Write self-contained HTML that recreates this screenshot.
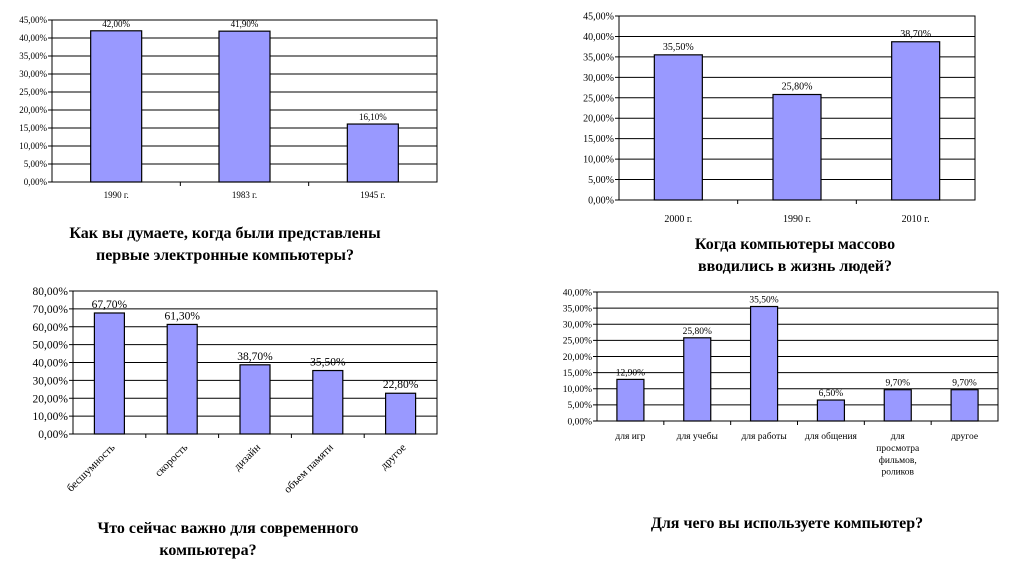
<!DOCTYPE html>
<html><head><meta charset="utf-8"><style>
body{margin:0;background:#fff}
svg{display:block;font-family:"Liberation Serif","Noto Serif CJK SC",serif}
</style></head><body>
<svg id="s" width="1024" height="574" xmlns="http://www.w3.org/2000/svg">
<g font-weight="bold" font-size="16" text-anchor="middle">
<text x="225" y="238">Как вы думаете, когда были представлены</text>
<text x="225" y="260">первые электронные компьютеры?</text></g>
<g font-weight="bold" font-size="16" text-anchor="middle">
<text x="795" y="249">Когда компьютеры массово</text>
<text x="795" y="271">вводились в жизнь людей?</text></g>
<g font-weight="bold" font-size="16" text-anchor="middle">
<text x="228" y="533">Что сейчас важно для современного</text>
<text x="208" y="555">компьютера?</text></g>
<g font-weight="bold" font-size="16" text-anchor="middle">
<text x="787" y="528">Для чего вы используете компьютер?</text></g>
</svg>
<script>
const c1Cats=["1990 г.","1983 г.","1945 г."];
const c1Vals=[42.0,41.9,16.1];
const c1Ticks=[0,5,10,15,20,25,30,35,40,45];
const c2Cats=["2000 г.","1990 г.","2010 г."];
const c2Vals=[35.5,25.8,38.7];
const c2Ticks=[0,5,10,15,20,25,30,35,40,45];
const c3Cats=["бесшумность","скорость","дизайн","объем памяти","другое"];
const c3Vals=[67.7,61.3,38.7,35.5,22.8];
const c3Ticks=[0,10,20,30,40,50,60,70,80];
const c4Cats=[["для игр"],["для учебы"],["для работы"],["для общения"],["для","просмотра","фильмов,","роликов"],["другое"]];
const c4Vals=[12.9,25.8,35.5,6.5,9.7,9.7];
const c4Ticks=[0,5,10,15,20,25,30,35,40];
const NS="http://www.w3.org/2000/svg";
const svg=document.getElementById('s');
function mk(t,a,p){const e=document.createElementNS(NS,t);for(const k in a)e.setAttribute(k,a[k]);(p||svg).appendChild(e);return e;}
function fmt(v){return v.toFixed(2).replace('.',',')+'%';}
function chart(name,o,cats,vals,ticks){
  const g=mk('g',{});
  
  
  const max=ticks[ticks.length-1];
  const y=v=>o.y0-(v/max)*(o.y0-o.y1);
  const cw=(o.x1-o.x0)/cats.length;
  const x=i=>o.x0+cw*(i+0.5);
  mk('rect',{x:o.x0,y:o.y1,width:o.x1-o.x0,height:o.y0-o.y1,fill:'#fff',stroke:'#000','stroke-width':1},g);
  ticks.forEach(t=>{
    const l=mk('line',{x1:o.x0-4,x2:o.x1,y1:y(t),y2:y(t),stroke:'#000','stroke-width':1},g);
    
    
    const tx=mk('text',{x:o.x0-5,y:y(t)+o.fs*0.35,'text-anchor':'end','font-size':o.fs},g);
    tx.textContent=fmt(t);
    
    
  });
  for(let i=1;i<cats.length;i++)mk('line',{x1:o.x0+cw*i,x2:o.x0+cw*i,y1:o.y0,y2:o.y0+4,stroke:'#000'},g);
  cats.forEach((c,i)=>{
    const b=mk('rect',{x:x(i)-o.bw/2,y:y(vals[i]),width:o.bw,height:o.y0-y(vals[i]),fill:'#9999ff',stroke:'#000','stroke-width':1.2},g);
    
    
    const vl=mk('text',{x:x(i),y:y(vals[i])-o.vo,'text-anchor':'middle','font-size':o.fs},g);
    vl.textContent=fmt(vals[i]);
    
    
    let cl;
    if(o.rot){
      const ax=x(i)+6, ay=o.y0+14;
      cl=mk('text',{x:ax,y:ay,'text-anchor':'end','font-size':o.cfs,transform:`rotate(-45 ${ax} ${ay})`},g);
      cl.textContent=c;
    }else{
      const lines=Array.isArray(c)?c:[c];
      cl=mk('text',{'text-anchor':'middle','font-size':o.cfs},g);
      lines.forEach((s,k)=>{const ts=mk('tspan',{x:x(i),y:o.y0+o.lo+k*o.cfs*1.25},cl);ts.textContent=s;});
    }
    
    
  });
}
chart('chart-first-computers',{x0:52,x1:437,y0:182,y1:20,bw:51,fs:9,cfs:9,vo:4,lo:16},c1Cats,c1Vals,c1Ticks);
chart('chart-mass-adoption',{x0:619,x1:975,y0:200,y1:16,bw:48,fs:10,cfs:10,vo:5,lo:22},c2Cats,c2Vals,c2Ticks);
chart('chart-important-features',{x0:73,x1:437,y0:434,y1:291,bw:30,fs:11.5,cfs:11,vo:5,rot:true},c3Cats,c3Vals,c3Ticks);
chart('chart-computer-usage',{x0:597,x1:998,y0:421,y1:292,bw:27,fs:9.5,cfs:9.5,vo:4,lo:18},c4Cats,c4Vals,c4Ticks);
</script>
</body></html>
